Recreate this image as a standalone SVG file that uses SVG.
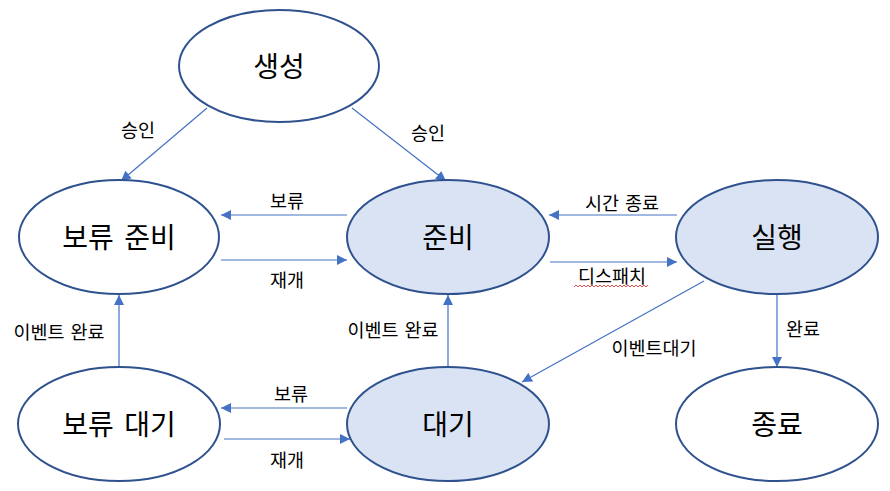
<svg xmlns="http://www.w3.org/2000/svg" width="890" height="491" viewBox="0 0 890 491">
<defs>
<marker id="arr" viewBox="0 0 10 10" refX="10" refY="5" markerWidth="10" markerHeight="10" markerUnits="userSpaceOnUse" orient="auto">
<path d="M0,0 L10,5 L0,10 z" fill="#4472C4"/>
</marker>
</defs>
<style>
.node ellipse{stroke:#2F528F;stroke-width:2;fill:#FFFFFF}
.node.active ellipse{fill:#DAE3F3}
.node text{font-family:"Noto Sans CJK KR","Malgun Gothic",sans-serif;font-size:28px;fill:#000;text-anchor:middle;dominant-baseline:central;word-spacing:4px}
#connectors line{stroke:#4472C4;stroke-width:1.2;marker-end:url(#arr)}
.lbl{font-family:"Noto Sans CJK KR","Malgun Gothic",sans-serif;font-size:18.5px;fill:#000;text-anchor:middle;dominant-baseline:central;word-spacing:2px}
</style>
<rect width="890" height="491" fill="#FFFFFF"/>
<g id="connectors">
<line x1="207" y1="108" x2="121" y2="181"/>
<line x1="352" y1="108" x2="446" y2="181"/>
<line x1="347" y1="215" x2="221" y2="215"/>
<line x1="221" y1="260" x2="347" y2="260"/>
<line x1="677" y1="215" x2="549" y2="215"/>
<line x1="550" y1="262" x2="677" y2="262"/>
<line x1="704" y1="281" x2="522" y2="382"/>
<line x1="777" y1="295" x2="777" y2="367"/>
<line x1="119" y1="367" x2="119" y2="295"/>
<line x1="448" y1="367" x2="448" y2="295"/>
<line x1="347" y1="408" x2="221" y2="408"/>
<line x1="224" y1="439" x2="350" y2="439"/>
<text class="lbl" x="138" y="129">승인</text>
<text class="lbl" x="428" y="132">승인</text>
<text class="lbl" x="287" y="200">보류</text>
<text class="lbl" x="287" y="279">재개</text>
<text class="lbl" x="622" y="202">시간 종료</text>
<text class="lbl" x="612" y="275">디스패치</text>
<path d="M574,287 l2,-2 l2,2 l2,-2 l2,2 l2,-2 l2,2 l2,-2 l2,2 l2,-2 l2,2 l2,-2 l2,2 l2,-2 l2,2 l2,-2 l2,2 l2,-2 l2,2 l2,-2 l2,2 l2,-2 l2,2 l2,-2 l2,2 l2,-2 l2,2 l2,-2 l2,2 l2,-2 l2,2 l2,-2 l2,2 l2,-2 l2,2 l2,-2 l2,2 l2,-2" fill="none" stroke="#E02020" stroke-width="0.8"/>
<text class="lbl" x="654" y="347">이벤트대기</text>
<text class="lbl" x="803" y="328">완료</text>
<text class="lbl" x="59" y="331">이벤트 완료</text>
<text class="lbl" x="393" y="329">이벤트 완료</text>
<text class="lbl" x="291" y="393">보류</text>
<text class="lbl" x="287" y="459">재개</text>
</g>
<g id="n-create" class="node"><ellipse cx="279" cy="66" rx="100" ry="56"/><text x="279" y="65">생성</text></g>
<g id="n-holdready" class="node"><ellipse cx="119" cy="237" rx="100" ry="57"/><text x="119" y="236">보류 준비</text></g>
<g id="n-ready" class="node active"><ellipse cx="448" cy="237" rx="101" ry="57"/><text x="448" y="236">준비</text></g>
<g id="n-run" class="node active"><ellipse cx="777" cy="237" rx="101" ry="57"/><text x="777" y="236">실행</text></g>
<g id="n-holdwait" class="node"><ellipse cx="119" cy="424" rx="101" ry="57"/><text x="119" y="423">보류 대기</text></g>
<g id="n-wait" class="node active"><ellipse cx="448" cy="424" rx="101" ry="57"/><text x="448" y="423">대기</text></g>
<g id="n-exit" class="node"><ellipse cx="777" cy="424" rx="101" ry="57"/><text x="777" y="423">종료</text></g>
</svg>
